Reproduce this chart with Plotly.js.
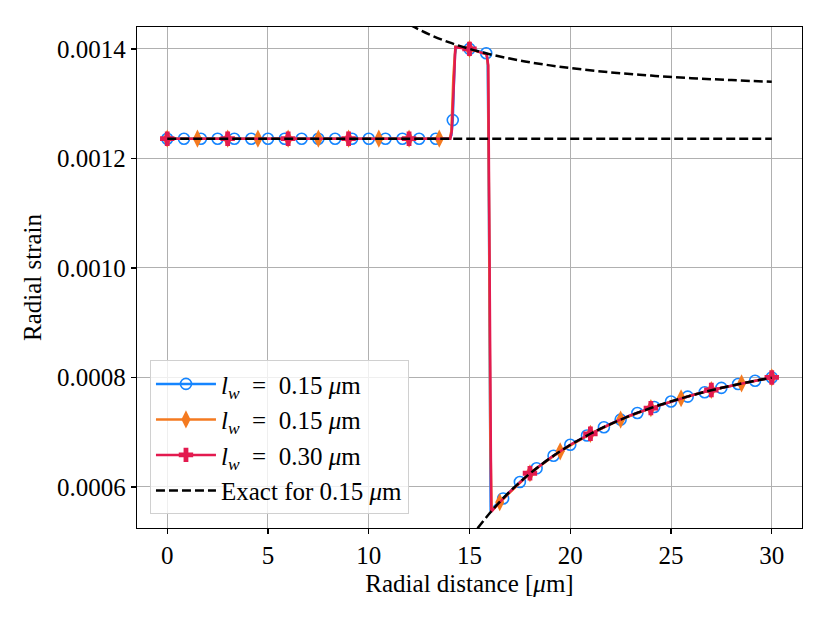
<!DOCTYPE html>
<html>
<head>
<meta charset="utf-8">
<script src="https://cdn.plot.ly/plotly-3.0.1.min.js"></script>
<style>
  html, body { margin: 0; padding: 0; background: #fff; }
  #chart { width: 830px; height: 623px; }
</style>
</head>
<body>
<div id="chart"></div>
<script>
// radial strain vs radial distance

// l_w = 0.15 um (circles) - line vertices and marker points
const blueLineX = [0, 14.0, 14.1, 14.17, 14.22, 14.28, 14.35, 15, 15.83, 15.9, 15.95, 16.0, 16.05, 16.2, 16.67, 17.5, 18.33, 19.17, 20, 21, 22, 23, 24, 25, 26, 27, 28, 29, 30];
const blueLineY = [0.001236, 0.001236, 0.001242, 0.00127, 0.00133, 0.00139, 0.001404, 0.0014, 0.001392, 0.00138, 0.0012, 0.0008, 0.000556, 0.000563, 0.000579, 0.000609, 0.000634, 0.000657, 0.000677, 0.000697, 0.000715, 0.000731, 0.000744, 0.000756, 0.000767, 0.000777, 0.000785, 0.000793, 0.0008];
const blueMarkX = [0, 0.83, 1.67, 2.5, 3.33, 4.17, 5, 5.83, 6.67, 7.5, 8.33, 9.17, 10, 10.83, 11.67, 12.5, 13.33, 14.17, 15, 15.83, 16.67, 17.5, 18.33, 19.17, 20, 20.83, 21.67, 22.5, 23.33, 24.17, 25, 25.83, 26.67, 27.5, 28.33, 29.17, 30];
const blueMarkY = [0.001236, 0.001236, 0.001236, 0.001236, 0.001236, 0.001236, 0.001236, 0.001236, 0.001236, 0.001236, 0.001236, 0.001236, 0.001236, 0.001236, 0.001236, 0.001236, 0.001236, 0.00127, 0.0014, 0.001392, 0.000579, 0.000609, 0.000634, 0.000657, 0.000677, 0.000694, 0.000709, 0.000723, 0.000735, 0.000746, 0.000756, 0.000765, 0.000773, 0.000781, 0.000788, 0.000794, 0.0008];

// l_w = 0.15 um (diamonds)
const orangeLineX = [0, 14.02, 14.1, 14.2, 14.3, 15, 15.85, 15.92, 15.97, 16.03, 16.1, 16.5, 18, 19.5, 21, 22.5, 24, 25.5, 27, 28.5, 30];
const orangeLineY = [0.001236, 0.001236, 0.00125, 0.00135, 0.001404, 0.0014, 0.00139, 0.00137, 0.0011, 0.0007, 0.000556, 0.000572, 0.000625, 0.000665, 0.000697, 0.000723, 0.000744, 0.000762, 0.000777, 0.000789, 0.0008];
const orangeMarkX = [0, 1.5, 3, 4.5, 6, 7.5, 9, 10.5, 12, 13.5, 15, 16.5, 18, 19.5, 21, 22.5, 24, 25.5, 27, 28.5, 30];
const orangeMarkY = [0.001236, 0.001236, 0.001236, 0.001236, 0.001236, 0.001236, 0.001236, 0.001236, 0.001236, 0.001236, 0.0014, 0.000572, 0.000625, 0.000665, 0.000697, 0.000723, 0.000744, 0.000762, 0.000777, 0.000789, 0.0008];

// l_w = 0.30 um (plus)
const redLineX = [0, 14.05, 14.12, 14.2, 14.3, 15, 15.85, 15.93, 15.98, 16.03, 16.08, 16.5, 17, 18, 19, 20, 21, 22, 23, 24, 25, 26, 27, 28, 29, 30];
const redLineY = [0.001236, 0.001236, 0.00125, 0.00133, 0.001403, 0.0014, 0.00139, 0.00137, 0.0011, 0.0007, 0.000555, 0.000572, 0.000591, 0.000625, 0.000653, 0.000677, 0.000697, 0.000715, 0.000731, 0.000744, 0.000756, 0.000767, 0.000777, 0.000785, 0.000793, 0.0008];
const redMarkX = [0, 3, 6, 9, 12, 15, 18, 21, 24, 27, 30];
const redMarkY = [0.001236, 0.001236, 0.001236, 0.001236, 0.001236, 0.0014, 0.000625, 0.000697, 0.000744, 0.000777, 0.0008];

// exact solution for 0.15 um (three pieces)
const exactFlatX = [0, 30];
const exactFlatY = [0.001236, 0.001236];
const exactUpperX = [11.5, 12, 13, 14, 15, 16, 17, 18, 19, 20, 22, 24, 26, 28, 30];
const exactUpperY = [0.001456, 0.001445, 0.0014265, 0.0014118, 0.0014, 0.0013903, 0.0013823, 0.0013756, 0.0013699, 0.001365, 0.0013572, 0.0013513, 0.0013466, 0.001343, 0.00134];
const exactLowerX = [15.4, 16, 16.5, 17, 17.5, 18, 19, 20, 21, 22, 23, 24, 25, 26, 27, 28, 29, 30];
const exactLowerY = [0.0005244, 0.000552, 0.0005726, 0.0005914, 0.0006087, 0.0006245, 0.0006526, 0.0006765, 0.0006971, 0.0007149, 0.0007305, 0.0007442, 0.0007562, 0.0007669, 0.0007765, 0.000785, 0.0007926, 0.0007996];

const BLUE = '#1585ff', ORANGE = '#f47a20', RED = '#e31a4f';
const FONT = 'Liberation Serif, Times New Roman, serif';
const FS = 25;
const LW = 2.5;
const SP = '\u2002';

const series = [
  { name: '<i>l</i><sub><i>w</i></sub>' + SP + '=' + SP + '0.15 <i>μ</i>m', color: BLUE, lx: blueLineX, ly: blueLineY, mx: blueMarkX, my: blueMarkY,
    marker: { symbol: 'circle-open', size: 11, color: BLUE, line: { color: BLUE, width: 1.6 } } },
  { name: '<i>l</i><sub><i>w</i></sub>' + SP + '=' + SP + '0.15 <i>μ</i>m', color: ORANGE, lx: orangeLineX, ly: orangeLineY, mx: orangeMarkX, my: orangeMarkY,
    marker: { symbol: 'diamond-tall', size: 13, color: ORANGE, line: { width: 0 } } },
  { name: '<i>l</i><sub><i>w</i></sub>' + SP + '=' + SP + '0.30 <i>μ</i>m', color: RED, lx: redLineX, ly: redLineY, mx: redMarkX, my: redMarkY,
    marker: { symbol: 'cross', size: 12, color: RED, line: { width: 0 } } }
];

const data = [];
series.forEach((s, i) => {
  const g = 'g' + i;
  data.push({ x: s.lx, y: s.ly, type: 'scatter', mode: 'lines', line: { color: s.color, width: LW },
    legendgroup: g, showlegend: false, hoverinfo: 'skip' });
  data.push({ x: s.mx, y: s.my, type: 'scatter', mode: 'markers', marker: s.marker,
    legendgroup: g, showlegend: false });
  // legend entry only
  data.push({ x: [null], y: [null], type: 'scatter', mode: 'lines+markers', name: s.name,
    line: { color: s.color, width: LW }, marker: s.marker, legendgroup: g });
});

const dash = { color: '#000', width: 2.5, dash: '9px,4px' };
data.push({ x: exactFlatX, y: exactFlatY, type: 'scatter', mode: 'lines', line: dash,
  name: 'Exact for 0.15 <i>μ</i>m', legendgroup: 'ex' });
data.push({ x: exactUpperX, y: exactUpperY, type: 'scatter', mode: 'lines', line: Object.assign({ shape: 'spline' }, dash),
  legendgroup: 'ex', showlegend: false });
data.push({ x: exactLowerX, y: exactLowerY, type: 'scatter', mode: 'lines', line: Object.assign({ shape: 'spline' }, dash),
  legendgroup: 'ex', showlegend: false });

const axisCommon = {
  showline: true, linecolor: '#000', linewidth: 1.3, mirror: true,
  ticks: 'outside', ticklen: 5, tickwidth: 1.3, tickcolor: '#000',
  showgrid: true, gridcolor: '#b0b0b0', gridwidth: 1, zeroline: false,
  tickfont: { family: FONT, size: FS, color: '#000' }
};

const layout = {
  width: 830, height: 623,
  margin: { l: 137, r: 28, t: 27, b: 95 },
  paper_bgcolor: '#fff', plot_bgcolor: '#fff',
  font: { family: FONT, size: FS, color: '#000' },
  xaxis: Object.assign({}, axisCommon, {
    range: [-1.5, 31.5], tickvals: [0, 5, 10, 15, 20, 25, 30],
    title: { text: 'Radial distance [<i>μ</i>m]', font: { family: FONT, size: FS, color: '#000' }, standoff: 6 }
  }),
  yaxis: Object.assign({}, axisCommon, {
    range: [0.000525, 0.00144], tickvals: [0.0006, 0.0008, 0.0010, 0.0012, 0.0014], tickformat: '.4f',
    title: { text: 'Radial strain', font: { family: FONT, size: FS, color: '#000' }, standoff: 8 }
  }),
  legend: {
    x: 0.0195, y: 0.335, xanchor: 'left', yanchor: 'top',
    bgcolor: 'rgba(255,255,255,0.8)', bordercolor: '#d0d0d0', borderwidth: 1,
    font: { family: FONT, size: FS, color: '#000' },
    traceorder: 'normal', itemwidth: 60
  },
  showlegend: true
};

Plotly.newPlot('chart', data, layout, { displayModeBar: false, staticPlot: true });
</script>
</body>
</html>
